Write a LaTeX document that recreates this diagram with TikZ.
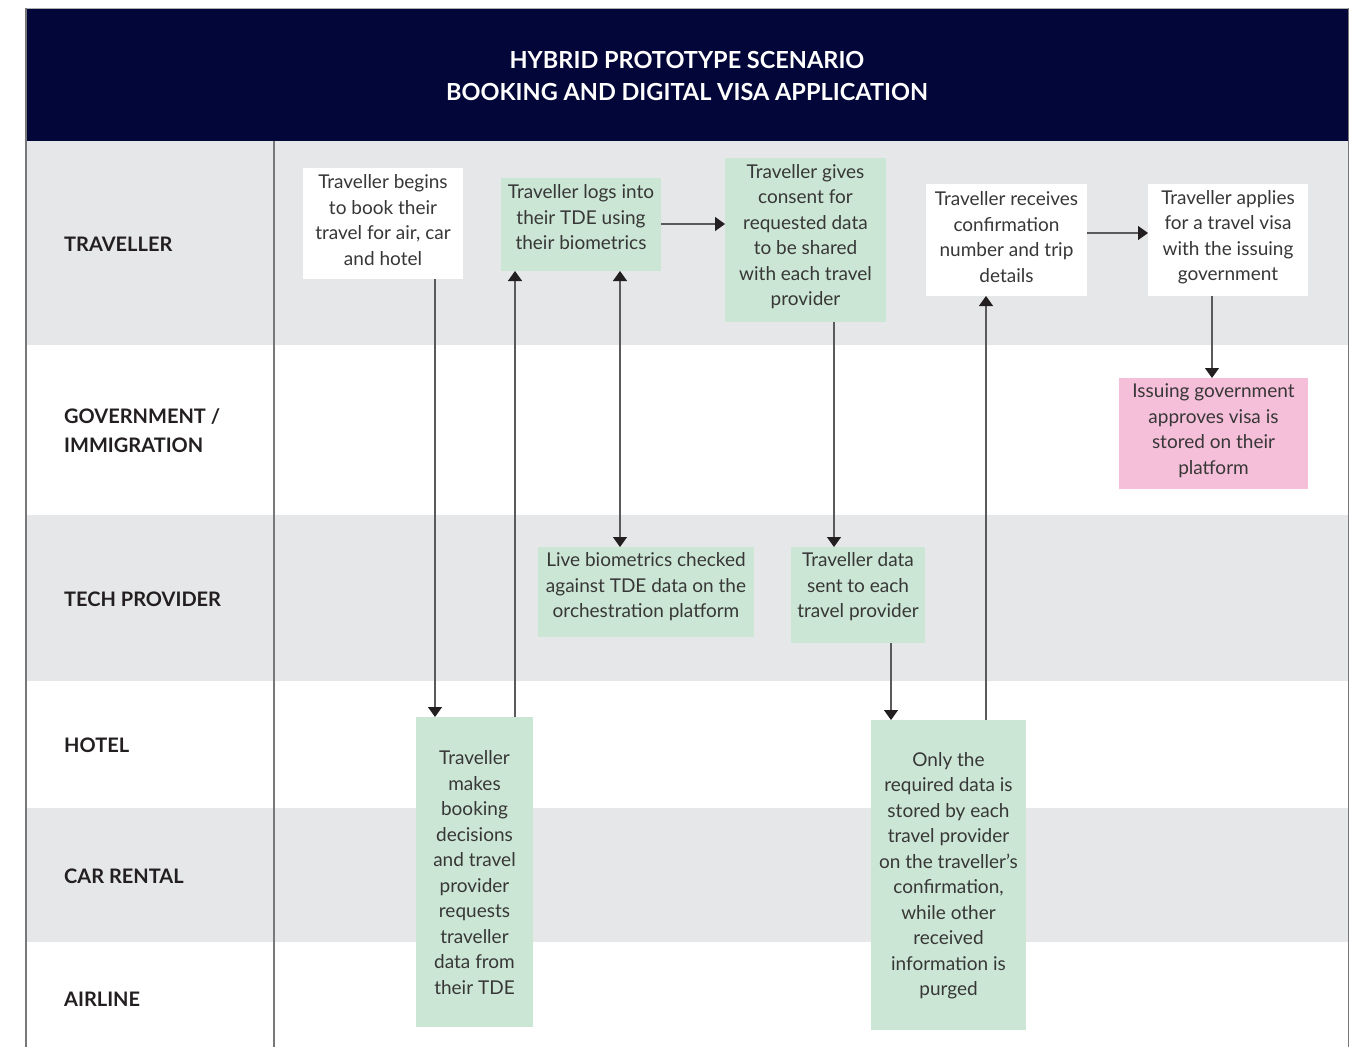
\documentclass[tikz,border=0pt]{standalone}
\usepackage{fontspec}
\setmainfont{Lato}
\usetikzlibrary{arrows.meta}
\definecolor{navy}{RGB}{2,6,56}
\definecolor{lanegrey}{RGB}{230,231,232}
\definecolor{boxgreen}{RGB}{204,230,213}
\definecolor{boxpink}{RGB}{246,191,217}
\definecolor{txtgrey}{RGB}{55,55,55}
\definecolor{labelblack}{RGB}{35,31,32}
\definecolor{linegrey}{RGB}{90,90,92}
\definecolor{framegrey}{RGB}{120,120,122}
\tikzset{
  boxbase/.style={draw=none, inner sep=0pt, outer sep=0pt, rectangle},
  wbox/.style={boxbase, fill=white},
  gbox/.style={boxbase, fill=boxgreen},
  pbox/.style={boxbase, fill=boxpink},
  txt/.style={align=center, inner sep=0pt, text=txtgrey, font=\fontsize{19}{25.5}\selectfont},
  lane/.style={anchor=west, align=left, inner sep=0pt, text=labelblack, font=\fontsize{20}{29}\selectfont\bfseries},
  arr/.style={draw=linegrey, line width=1.2pt, -{Triangle[width=14pt,length=10pt,color=labelblack]}},
  dbl/.style={draw=linegrey, line width=1.2pt, {Triangle[width=14pt,length=10pt,color=labelblack]}-{Triangle[width=14pt,length=10pt,color=labelblack]}}
}
\begin{document}
\begin{tikzpicture}[x=1pt,y=-1pt]
\useasboundingbox (0,0) rectangle (1354,1047);
\fill[white] (0,0) rectangle (1354,1047);
% lanes
\fill[lanegrey] (26,141) rectangle (1348,345);
\fill[lanegrey] (26,515) rectangle (1348,681);
\fill[lanegrey] (26,808) rectangle (1348,942);
% header
\fill[navy] (26,9) rectangle (1348,141);
\draw[framegrey!60, line width=1pt] (26,8.5) -- (1348,8.5);
\draw[framegrey, line width=1.2pt] (26,8) -- (26,1047);
\draw[framegrey, line width=1.5pt] (1348.5,8) -- (1348.5,1047);
\draw[framegrey, line width=1.5pt] (274,141) -- (274,1047);
\node[inner sep=0pt, align=center, text=white, font=\fontsize{23.5}{32}\selectfont\bfseries] (title) at (687,76) {HYBRID PROTOTYPE SCENARIO\\BOOKING AND DIGITAL VISA APPLICATION};
% lane labels
\node[lane] (l1) at (64,244) {TRAVELLER};
\node[lane] (l2) at (64,430.5) {GOVERNMENT /\\IMMIGRATION};
\node[lane] (l3) at (64,599) {TECH PROVIDER};
\node[lane] (l4) at (64,745) {HOTEL};
\node[lane] (l5) at (64,876) {CAR RENTAL};
\node[lane] (l6) at (64,999) {AIRLINE};
% boxes
\node[wbox, minimum width=160, minimum height=111] (b1) at (383,223.5) {};
\node[txt] (t1) at (383,220) {Traveller begins\\to book their\\travel for air, car\\and hotel};
\node[gbox, minimum width=160, minimum height=93] (b2) at (581,224.5) {};
\node[txt] (t2) at (581,217.5) {Traveller logs into\\their TDE using\\their biometrics};
\node[gbox, minimum width=161, minimum height=164] (b3) at (805.5,240) {};
\node[txt] (t3) at (805.5,236.5) {Traveller gives\\consent for\\requested data\\to be shared\\with each travel\\provider};
\node[wbox, minimum width=161, minimum height=112] (b4) at (1006.5,240) {};
\node[txt] (t4) at (1006.5,237) {Traveller receives\\confirmation\\number and trip\\details};
\node[wbox, minimum width=160, minimum height=112] (b5) at (1228,240) {};
\node[txt] (t5) at (1228,237) {Traveller applies\\for a travel visa\\with the issuing\\government};
\node[pbox, minimum width=189, minimum height=111] (b6) at (1213.5,433.5) {};
\node[txt] (t6) at (1213.5,430.5) {Issuing government\\approves visa is\\stored on their\\platform};
\node[gbox, minimum width=216, minimum height=90] (b7) at (646,592) {};
\node[txt] (t7) at (646,587) {Live biometrics checked\\against TDE data on the\\orchestration platform};
\node[gbox, minimum width=134, minimum height=96] (b8) at (858,595) {};
\node[txt] (t8) at (858,587) {Traveller data\\sent to each\\travel provider};
\node[gbox, minimum width=117, minimum height=310] (b9) at (474.5,872) {};
\node[txt] (t9) at (474.5,872.5) {Traveller\\makes\\booking\\decisions\\and travel\\provider\\requests\\traveller\\data from\\their TDE};
\node[gbox, minimum width=155, minimum height=310] (b10) at (948.5,875) {};
\node[txt] (t10) at (948.5,875.5) {Only the\\required data is\\stored by each\\travel provider\\on the traveller's\\confirmation,\\while other\\received\\information is\\purged};
% connectors
\draw[arr] ([xshift=52pt]b1.south) -- ([xshift=-39.5pt]b9.north);
\draw[arr] ([xshift=40.5pt]b9.north) -- ([xshift=-66pt]b2.south);
\draw[dbl] ([xshift=39pt]b2.south) -- ([xshift=-26pt]b7.north);
\draw[arr] ([yshift=0.5pt]b2.east) -- ([yshift=16pt]b3.west);
\draw[arr] ([xshift=28.5pt]b3.south) -- ([xshift=-24pt]b8.north);
\draw[arr] ([xshift=33pt]b8.south) -- ([xshift=-57.5pt]b10.north);
\draw[arr] ([xshift=37.5pt]b10.north) -- ([xshift=-20.5pt]b4.south);
\draw[arr] ([yshift=7pt]b4.east) -- ([yshift=7pt]b5.west);
\draw[arr] ([xshift=-16pt]b5.south) -- ([xshift=-1.5pt]b6.north);
\end{tikzpicture}
\end{document}
